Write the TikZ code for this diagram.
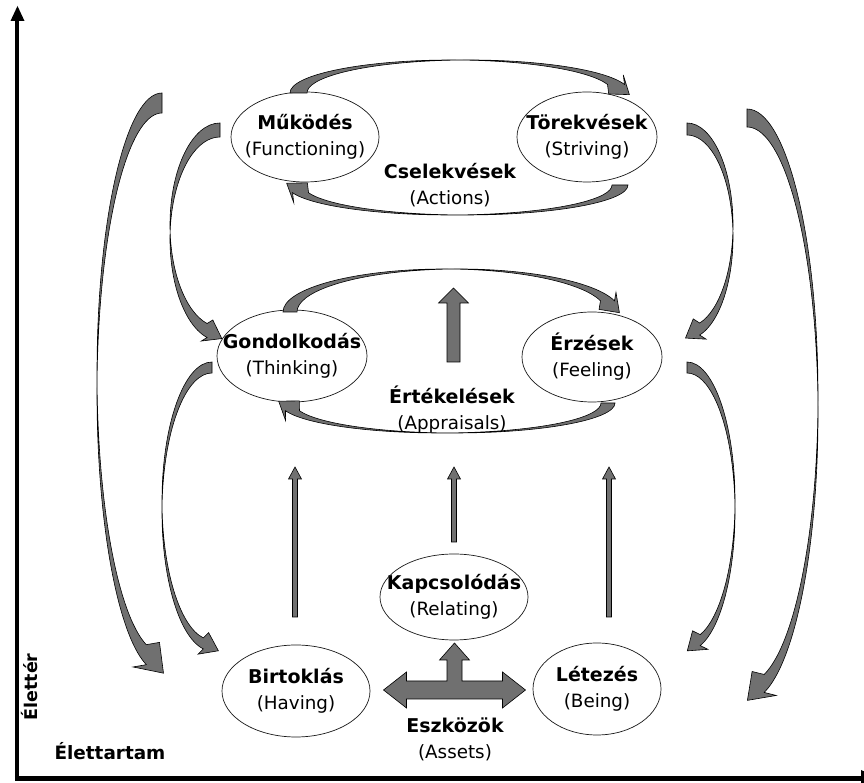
\documentclass[tikz,border=0pt]{standalone}
\usepackage{fontspec}
\setmainfont{DejaVu Sans}
\usetikzlibrary{calc}

\definecolor{arrowgray}{RGB}{112,112,112}
\definecolor{lineink}{RGB}{25,25,25}

\tikzset{
  bentshape/.style={fill=arrowgray, draw=black, line width=0.6pt, line join=miter},
  blockarrow/.style={fill=arrowgray, draw=black, line width=0.6pt},
  ellline/.style={draw=lineink, line width=0.7pt},
  label2/.style={align=center, inner sep=0pt, font=\fontsize{18.3}{26}\selectfont},
  axisline/.style={line width=4.5pt, black},
}

% two-line caption: bold Hungarian term over the English gloss
\newcommand{\twoline}[2]{{\fontsize{19}{26}\selectfont\bfseries #1}\\#2}

% Curved block arrow built from two copies of one elliptic arc
% #1,#2 centre  #3,#4 radii  #5 start angle  #6 end angle
% #7,#8 offset of the second edge  #9 half width of the head
\newcommand{\bentarrow}[9]{%
  \pgfmathsetmacro\bax{#1+#3*cos(#6)}%
  \pgfmathsetmacro\bay{#2+#4*sin(#6)}%
  \pgfmathsetmacro\bbx{\bax+(#7)}%
  \pgfmathsetmacro\bby{\bay+(#8)}%
  \pgfmathsetmacro\bsg{(#6>#5)*2-1}%
  \pgfmathsetmacro\btx{-1*(\bsg)*#3*sin(#6)}%
  \pgfmathsetmacro\bty{(\bsg)*#4*cos(#6)}%
  \pgfmathsetmacro\btl{veclen(\btx,\bty)}%
  \pgfmathsetmacro\bux{(\btx)/(\btl)}%
  \pgfmathsetmacro\buy{(\bty)/(\btl)}%
  \pgfmathsetmacro\bside{sign((\bax-\bbx)*(-1*(\buy))+(\bay-\bby)*(\bux))}%
  \pgfmathsetmacro\bmx{(\bax+\bbx)/2}%
  \pgfmathsetmacro\bmy{(\bay+\bby)/2}%
  \pgfmathsetmacro\bpx{\bmx-(\bside)*#9*(\buy)}%
  \pgfmathsetmacro\bpy{\bmy+(\bside)*#9*(\bux)}%
  \pgfmathsetmacro\bqx{\bmx+(\bside)*#9*(\buy)}%
  \pgfmathsetmacro\bqy{\bmy-(\bside)*#9*(\bux)}%
  \pgfmathsetmacro\bkx{\bmx+1.4*#9*(\bux)}%
  \pgfmathsetmacro\bky{\bmy+1.4*#9*(\buy)}%
  \draw[bentshape] ({#1+#3*cos(#5)},{#2+#4*sin(#5)})
     arc[start angle=#5, end angle=#6, x radius=#3, y radius=#4]
     -- (\bpx,\bpy) -- (\bkx,\bky) -- (\bqx,\bqy) -- (\bbx,\bby)
     arc[start angle=#6, end angle=#5, x radius=#3, y radius=#4] -- cycle;
}

% straight block arrow pointing up from a named base point
% #1 base  #2 length  #3 shaft half width  #4 head half width  #5 head length
\newcommand{\upblock}[5]{%
  \draw[blockarrow, shift={(#1)}] (-#3,0) -- (-#3,{#2-#5}) -- (-#4,{#2-#5})
     -- (0,#2) -- (#4,{#2-#5}) -- (#3,{#2-#5}) -- (#3,0) -- cycle;
}

\begin{document}
\begin{tikzpicture}[x=1pt,y=1pt]
\clip (0,0) rectangle (864,783);
\fill[white] (0,0) rectangle (864,783);

% axes
\draw[axisline] (17,4.5) -- (17,764);
\fill (10.5,762) -- (17.5,777) -- (24.5,762) -- cycle;
\draw[axisline] (14.8,4.5) -- (862,4.5);
\fill (861,-4) -- (861,13) -- (880,4.5) -- cycle;
\node[font=\fontsize{17.5}{20}\selectfont\bfseries, rotate=90] (lifespace) at (30,96) {Élettér};
\node[font=\fontsize{18.4}{20}\selectfont\bfseries] (lifespan) at (110,32) {Élettartam};

% nodes
\node[label2] (mukodes) at (305,646) {\twoline{Működés}{(Functioning)}};
\draw[ellline] (mukodes.center) ellipse[x radius=74, y radius=45];
\node[label2] (torek) at (587,646) {\twoline{Törekvések}{(Striving)}};
\draw[ellline] (torek.center) ellipse[x radius=70, y radius=45];
\node[label2] (actions) at (450,598) {\twoline{Cselekvések}{(Actions)}};

\node[label2] (gond) at (292,427) {\twoline{Gondolkodás}{(Thinking)}};
\draw[ellline] (gond.center) ellipse[x radius=75, y radius=46];
\node[label2] (erzes) at (592,426) {\twoline{Érzések}{(Feeling)}};
\draw[ellline] (erzes.center) ellipse[x radius=70, y radius=45];
\node[label2] (apprais) at (452,373) {\twoline{Értékelések}{(Appraisals)}};

\node[label2] (kapcs) at (454,186) {\twoline{Kapcsolódás}{(Relating)}};
\draw[ellline] (kapcs.center) ellipse[x radius=74, y radius=43];
\node[label2] (birt) at (296,92) {\twoline{Birtoklás}{(Having)}};
\draw[ellline] (birt.center) ellipse[x radius=74, y radius=46];
\node[label2] (letez) at (597,94) {\twoline{Létezés}{(Being)}};
\draw[ellline] (letez.center) ellipse[x radius=64, y radius=46];
\node[label2] (assets) at (455,44) {\twoline{Eszközök}{(Assets)}};

% action cycle
\bentarrow{451.5}{690}{161.5}{33}{180}{15}{17}{0}{12}
\bentarrow{465.5}{598}{162.5}{30}{0}{-165}{-16}{0}{12}
% appraisal cycle
\bentarrow{444.5}{471}{161.5}{43}{180}{15}{14}{0}{12}
\bentarrow{454.5}{380}{160.5}{30}{0}{-165}{-14}{0}{12}
% left side
\bentarrow{162}{410}{65}{280}{90}{256}{0}{-20}{18}
\bentarrow{220}{558}{50}{102}{90}{255}{0}{-14}{12}
\bentarrow{212}{282}{50}{139}{90}{260}{0}{-11}{12}
% right side
\bentarrow{687}{558}{46}{102}{90}{-74}{0}{-12}{12}
\bentarrow{747}{387}{71}{287}{90}{-76}{0}{-18}{17}
\bentarrow{687}{282}{48}{139}{90}{-74}{0}{-11}{12}

% straight arrows
\coordinate (upL) at (295,166);
\coordinate (upM) at (454,241);
\coordinate (upR) at (609,166);
\coordinate (upC) at (453.5,421);
\upblock{upL}{150}{2.5}{6.5}{12}
\upblock{upM}{75}{2.5}{6.5}{12}
\upblock{upR}{150}{2.5}{6.5}{12}
\upblock{upC}{74}{6.5}{15}{15}

% assets: left-right-up block arrow
\coordinate (tee) at (454.5,93);
\draw[blockarrow, shift={(tee)}] (-71,0) -- (-48,18) -- (-48,9) -- (-7.5,9)
  -- (-7.5,30) -- (-15,30) -- (0,47) -- (15,30) -- (7.5,30) -- (7.5,9)
  -- (48,9) -- (48,18) -- (71,0) -- (48,-18) -- (48,-9) -- (-48,-9)
  -- (-48,-18) -- cycle;
\end{tikzpicture}
\end{document}
